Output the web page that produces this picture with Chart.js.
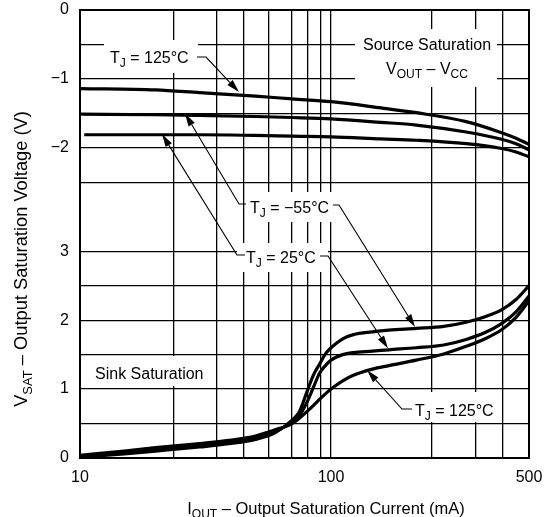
<!DOCTYPE html>
<html>
<head>
<meta charset="utf-8">
<script src="https://cdn.jsdelivr.net/npm/chart.js@4.4.1/dist/chart.umd.min.js"></script>
<style>
html,body{margin:0;padding:0;background:#fff;}
#wrap{width:556px;height:517px;position:relative;}
</style>
</head>
<body>
<div id="wrap"><canvas id="c" width="556" height="517"></canvas></div>
<script>
// ---------------- DATA ----------------
// Source saturation (V_OUT - V_CC, volts) vs output current (mA)
const sourceCurrent   = [10, 20, 30, 50, 70, 100, 150, 200, 300, 400, 450, 500];
const sourceCurrent25 = [10.4, 20, 30, 50, 70, 100, 150, 200, 300, 400, 450, 500];
const source125 = [-1.14, -1.16, -1.20, -1.25, -1.29, -1.33, -1.42, -1.49, -1.62, -1.78, -1.86, -1.95];
const sourceM55 = [-1.51, -1.52, -1.53, -1.545, -1.56, -1.58, -1.63, -1.67, -1.77, -1.875, -1.94, -2.03];
const source25  = [-1.81, -1.81, -1.81, -1.82, -1.83, -1.84, -1.87, -1.89, -1.94, -2.01, -2.06, -2.13];

// Sink saturation (volts) vs output current (mA)
const sinkCurrent = [10, 15, 20, 30, 40, 50, 60, 70, 75, 80, 85, 90, 95, 100, 110, 120, 140, 160, 200, 250, 300, 350, 400, 450, 500];
const sinkM55 = [0.01, 0.06, 0.10, 0.16, 0.21, 0.27, 0.37, 0.55, 0.68, 0.95, 1.20, 1.36, 1.51, 1.60, 1.73, 1.79, 1.83, 1.855, 1.88, 1.91, 1.97, 2.05, 2.15, 2.30, 2.50];
const sink25  = [0.02, 0.08, 0.12, 0.18, 0.23, 0.29, 0.38, 0.53, 0.62, 0.80, 1.02, 1.23, 1.34, 1.42, 1.50, 1.53, 1.55, 1.57, 1.60, 1.64, 1.72, 1.82, 1.95, 2.12, 2.35];
const sink125 = [0.04, 0.10, 0.15, 0.21, 0.26, 0.32, 0.41, 0.50, 0.58, 0.67, 0.76, 0.85, 0.93, 1.00, 1.12, 1.20, 1.29, 1.34, 1.42, 1.51, 1.62, 1.73, 1.86, 2.04, 2.28];

// Tick labels
const xTickLabels = [10, 100, 500];
const sinkTickLabels = [0, 1, 2, 3];       // lower part of the y axis (volts)
const sourceTickLabels = [0, -1, -2];      // upper part of the y axis (V_OUT - V_CC)
const SOURCE_ZERO = 6.5;                   // axis position where V_OUT - V_CC = 0

// ---------------- SCALE SET-UP ----------------
const FONT = '"Liberation Sans", Arial, Helvetica, sans-serif';
const FS = 16;

// The reference x axis is a hand-drawn log axis that is not perfectly uniform:
// calibration (value -> fraction of plot width), log-interpolated between points.
const xCalValues = [10, 100, 500];
const xCalFractions = [0, 0.559, 1];
// gridline positions as fractions of plot width (besides labelled ticks)
const xGridFractions = [0.2094, 0.3051, 0.3653, 0.4209, 0.4722, 0.5078, 0.5367, 0.7840, 0.8820, 0.9421];

function warp(v) {
  const lv = Math.log10(v);
  const n = xCalValues.length;
  for (let i = 0; i < n - 1; i++) {
    const a = Math.log10(xCalValues[i]), b = Math.log10(xCalValues[i + 1]);
    if (lv <= b || i === n - 2) {
      return xCalFractions[i] + (lv - a) / (b - a) * (xCalFractions[i + 1] - xCalFractions[i]);
    }
  }
}
function unwarp(f) {
  const n = xCalValues.length;
  for (let i = 0; i < n - 1; i++) {
    if (f <= xCalFractions[i + 1] || i === n - 2) {
      const a = Math.log10(xCalValues[i]), b = Math.log10(xCalValues[i + 1]);
      const t = (f - xCalFractions[i]) / (xCalFractions[i + 1] - xCalFractions[i]);
      return Math.pow(10, a + t * (b - a));
    }
  }
}

class WarpedLogScale extends Chart.LogarithmicScale {
  getPixelForValue(value) {
    if (value === undefined || value === null || isNaN(value)) return NaN;
    return this.getPixelForDecimal(warp(value));
  }
  getValueForPixel(pixel) {
    return unwarp(this.getDecimalForPixel(pixel));
  }
}
WarpedLogScale.id = 'warpedLog';
WarpedLogScale.defaults = {};
Chart.register(WarpedLogScale);

function pts(xs, ys, offset) {
  return xs.map((x, i) => ({ x: x, y: ys[i] + offset }));
}

const lineStyle = {
  borderColor: '#000', borderWidth: 3.2, pointRadius: 0, fill: false,
  cubicInterpolationMode: 'monotone'
};

const datasets = [
  Object.assign({ label: 'Source TJ=125°C', data: pts(sourceCurrent, source125, SOURCE_ZERO) }, lineStyle),
  Object.assign({ label: 'Source TJ=-55°C', data: pts(sourceCurrent, sourceM55, SOURCE_ZERO) }, lineStyle),
  Object.assign({ label: 'Source TJ=25°C', data: pts(sourceCurrent25, source25, SOURCE_ZERO) }, lineStyle),
  Object.assign({ label: 'Sink TJ=-55°C', data: pts(sinkCurrent, sinkM55, 0) }, lineStyle),
  Object.assign({ label: 'Sink TJ=25°C', data: pts(sinkCurrent, sink25, 0) }, lineStyle),
  Object.assign({ label: 'Sink TJ=125°C', data: pts(sinkCurrent, sink125, 0) }, lineStyle)
];

// ---------------- ANNOTATIONS ----------------
// tip: point on a curve (mA, volts, which half of the axis); leader: pixel path from label
const annotations = [
  { parts: [['T'], ['J', 1], [' = 125°C']], x: 110, y: 63, box: [104, 40, 94, 33],
    leader: [[197, 57], [206, 57]], tip: { mA: 43, v: -1.19, source: true } },
  { parts: [['T'], ['J', 1], [' = \u221255°C']], x: 250, y: 213, box: [246, 192, 90, 30],
    leader: [[246, 204], [239, 204]], tip: { mA: 26.2, v: -1.50, source: true } },
  { parts: [['T'], ['J', 1], [' = 25°C']], x: 246, y: 263, box: [237, 243, 91, 29],
    leader: [[245, 255], [237, 255]], tip: { mA: 21.2, v: -1.80, source: true } },
  { parts: null, leader: [[333, 205], [339, 205]], tip: { mA: 198, v: 1.90, source: false } },
  { parts: null, leader: [[320, 256], [328, 256]], tip: { mA: 159, v: 1.59, source: false } },
  { parts: [['T'], ['J', 1], [' = 125°C']], x: 415, y: 416, box: [411, 392, 88, 30],
    leader: [[412, 409], [402, 409]], tip: { mA: 134, v: 1.275, source: false } }
];

function drawRich(ctx, parts, x, y, align, size) {
  const main = size + 'px ' + FONT;
  const sub = Math.round(size * 0.72) + 'px ' + FONT;
  const widths = [];
  let total = 0;
  parts.forEach(p => {
    ctx.font = p[1] ? sub : main;
    const w = ctx.measureText(p[0]).width;
    widths.push(w); total += w;
  });
  let cx = align === 'center' ? x - total / 2 : (align === 'right' ? x - total : x);
  ctx.textAlign = 'left';
  ctx.textBaseline = 'alphabetic';
  ctx.fillStyle = '#000';
  parts.forEach((p, i) => {
    ctx.font = p[1] ? sub : main;
    ctx.fillText(p[0], cx, y + (p[1] ? Math.round(size * 0.25) : 0));
    cx += widths[i];
  });
  return total;
}

function arrow(ctx, path) {
  ctx.save();
  ctx.strokeStyle = '#000';
  ctx.fillStyle = '#000';
  ctx.lineWidth = 1.1;
  const n = path.length;
  const tip = path[n - 1], prev = path[n - 2];
  const ang = Math.atan2(tip[1] - prev[1], tip[0] - prev[0]);
  const L = 13, W = 3.6;
  const bx = tip[0] - L * Math.cos(ang), by = tip[1] - L * Math.sin(ang);
  ctx.beginPath();
  ctx.moveTo(path[0][0], path[0][1]);
  for (let i = 1; i < n - 1; i++) ctx.lineTo(path[i][0], path[i][1]);
  ctx.lineTo(bx, by);
  ctx.stroke();
  ctx.beginPath();
  ctx.moveTo(tip[0], tip[1]);
  ctx.lineTo(bx + W * Math.sin(ang), by - W * Math.cos(ang));
  ctx.lineTo(bx - W * Math.sin(ang), by + W * Math.cos(ang));
  ctx.closePath();
  ctx.fill();
  ctx.restore();
}

const decorPlugin = {
  id: 'decor',
  afterDraw(chart) {
    const ctx = chart.ctx;
    const ca = chart.chartArea;
    const xs = chart.scales.x, ys = chart.scales.y;
    ctx.save();

    // white label boxes (interrupt the grid)
    ctx.fillStyle = '#fff';
    annotations.forEach(a => { if (a.box) ctx.fillRect(a.box[0], a.box[1], a.box[2], a.box[3]); });
    ctx.fillRect(355, 29, 142, 58);   // Source Saturation box
    ctx.fillRect(92, 356, 118, 30);   // Sink Saturation box

    // plot frame
    ctx.strokeStyle = '#000';
    ctx.lineWidth = 2;
    ctx.strokeRect(ca.left, ca.top, ca.right - ca.left, ca.bottom - ca.top);

    // annotation texts
    annotations.forEach(a => { if (a.parts) drawRich(ctx, a.parts, a.x, a.y, 'left', FS); });
    drawRich(ctx, [['Source Saturation']], 427, 50, 'center', FS);
    drawRich(ctx, [['V'], ['OUT', 1], [' \u2013 V'], ['CC', 1]], 427, 74, 'center', FS);
    drawRich(ctx, [['Sink Saturation']], 95, 379, 'left', FS);

    // leaders + arrowheads
    annotations.forEach(a => {
      const t = a.tip;
      const px = xs.getPixelForValue(t.mA);
      const py = ys.getPixelForValue(t.source ? t.v + SOURCE_ZERO : t.v);
      arrow(ctx, a.leader.concat([[px, py]]));
    });

    // axis titles
    drawRich(ctx, [['I'], ['OUT', 1], [' \u2013 Output Saturation Current (mA)']], 326, 514, 'center', 16.5);
    ctx.save();
    ctx.translate(27, 259);
    ctx.rotate(-Math.PI / 2);
    drawRich(ctx, [['V'], ['SAT', 1], [' \u2013 Output Saturation Voltage (V)']], 0, 0, 'center', 18.3);
    ctx.restore();

    ctx.restore();
  }
};

new Chart(document.getElementById('c'), {
  type: 'line',
  data: { datasets: datasets },
  plugins: [decorPlugin],
  options: {
    responsive: false,
    animation: false,
    devicePixelRatio: 1,
    layout: { padding: { top: 0, right: 27, left: 0, bottom: 0 } },
    plugins: { legend: { display: false }, tooltip: { enabled: false }, title: { display: false } },
    scales: {
      x: {
        type: 'warpedLog',
        min: 10, max: 500,
        bounds: 'data',
        afterFit: s => { s.height = 59; },
        afterBuildTicks: s => {
          const vals = xTickLabels.concat(xGridFractions.map(unwarp)).sort((a, b) => a - b);
          s.ticks = vals.map(v => ({ value: v, major: false }));
        },
        grid: { color: '#000', lineWidth: 1.3, drawTicks: false },
        border: { display: false },
        ticks: {
          autoSkip: false, maxRotation: 0, minRotation: 0, padding: 10,
          color: '#000', font: { family: FONT, size: FS },
          callback: v => (xTickLabels.some(t => Math.abs(t - v) < 1e-6) ? String(v) : '')
        }
      },
      y: {
        type: 'linear',
        min: 0, max: 6.5,
        afterFit: s => { s.width = 80; s.paddingTop = 10; s.paddingBottom = 0; },
        grid: {
          color: c => (Math.abs(c.tick.value - 3.5) < 1e-6 ? 'rgba(0,0,0,0)' : '#000'),
          lineWidth: 1.3, drawTicks: false
        },
        border: { display: false },
        ticks: {
          stepSize: 0.5, padding: 11, color: '#000', font: { family: FONT, size: FS },
          callback: v => {
            if (sinkTickLabels.some(t => Math.abs(t - v) < 1e-6)) return String(v);
            const s = v - SOURCE_ZERO;
            if (sourceTickLabels.some(t => Math.abs(t - s) < 1e-6)) return s === 0 ? '0' : '\u2212' + Math.abs(Math.round(s));
            return '';
          }
        }
      }
    }
  }
});
</script>
</body>
</html>
